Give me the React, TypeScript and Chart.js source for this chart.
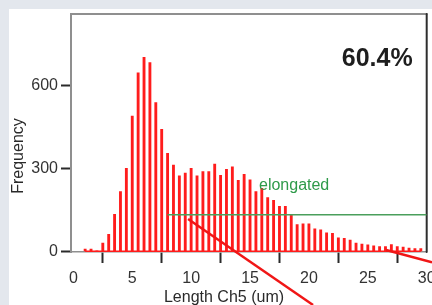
import React, { useEffect, useRef } from "react";
import { Chart, registerables } from "chart.js";

Chart.register(...registerables);

// ---- data ----
const binCenters = [
  1, 1.5, 2, 2.5, 3, 3.5, 4, 4.5, 5, 5.5,
  6, 6.5, 7, 7.5, 8, 8.5, 9, 9.5, 10, 10.5,
  11, 11.5, 12, 12.5, 13, 13.5, 14, 14.5, 15, 15.5,
  16, 16.5, 17, 17.5, 18, 18.5, 19, 19.5, 20, 20.5,
  21, 21.5, 22, 22.5, 23, 23.5, 24, 24.5, 25, 25.5,
  26, 26.5, 27, 27.5, 28, 28.5, 29, 29.5,
];
const counts = [
  8, 8, 2, 30, 61, 134, 216, 300, 489, 645,
  701, 682, 538, 441, 354, 312, 273, 283, 300, 273,
  288, 288, 315, 275, 296, 305, 257, 278, 258, 216,
  228, 194, 184, 163, 163, 131, 97, 99, 99, 81,
  78, 67, 65, 49, 47, 41, 30, 26, 23, 20,
  17, 17, 24, 17, 15, 12, 10, 10,
];
const xTicks = [0, 5, 10, 15, 20, 25, 30];
const yTicks = [0, 300, 600];
const thresholdX = [8, 30];
const thresholdY = 132;
const percentLabel = "60.4%";
const percentPos = [28.81, 671];
const regionLabel = "elongated";
const regionPos = [15.76, 223];
const xTitle = "Length Ch5 (um)";
const yTitle = "Frequency";
const arrow1X = [9.74, 20.35];
const arrow1Y = [117, -194];
const arrow2X = [26.55, 30.45];
const arrow2Y = [4.7, -40];

const FONT = "'Liberation Sans', Arial, Helvetica, sans-serif";

const overlay = {
  id: "overlay",
  beforeDatasetsDraw(chart: any) {
    const { ctx, chartArea: a } = chart;
    ctx.save();
    ctx.lineCap = "round";
    ctx.strokeStyle = "#8f8f8f";
    ctx.lineWidth = 2;
    ctx.beginPath();
    ctx.moveTo(a.left, a.top);
    ctx.lineTo(a.right, a.top);
    ctx.stroke();
    ctx.strokeStyle = "#2e2e2e";
    ctx.lineWidth = 2;
    ctx.beginPath();
    ctx.moveTo(a.right, a.top);
    ctx.lineTo(a.right, a.bottom);
    ctx.stroke();
    ctx.restore();
  },
  afterDatasetsDraw(chart: any) {
    const { ctx } = chart;
    const x = chart.scales.x;
    const y = chart.scales.y;
    ctx.save();
    ctx.fillStyle = "#1e1e1e";
    ctx.font = `bold 25px ${FONT}`;
    ctx.textAlign = "right";
    ctx.textBaseline = "alphabetic";
    ctx.fillText(percentLabel, x.getPixelForValue(percentPos[0]), y.getPixelForValue(percentPos[1]));

    ctx.fillStyle = "#2f9a4a";
    ctx.font = `16px ${FONT}`;
    ctx.textAlign = "left";
    ctx.fillText(regionLabel, x.getPixelForValue(regionPos[0]), y.getPixelForValue(regionPos[1]));

    ctx.fillStyle = "#2a2a2a";
    ctx.font = `16px ${FONT}`;
    ctx.textAlign = "center";
    ctx.fillText(xTitle, 215, 292.5);

    ctx.translate(13.5, 147);
    ctx.rotate(-Math.PI / 2);
    ctx.fillText(yTitle, 0, 0);
    ctx.restore();
  },
};

export default function App() {
  const ref = useRef<HTMLCanvasElement>(null);

  useEffect(() => {
    const canvas = ref.current;
    if (!canvas) return;
    Chart.defaults.font.family = FONT;
    const chart = new Chart(canvas, {
      type: "bar",
      data: {
        datasets: [
          {
            type: "line",
            data: arrow1X.map((v, i) => ({ x: v, y: arrow1Y[i] })),
            borderColor: "#f01616",
            borderWidth: 2.5,
            pointRadius: 0,
            clip: false,
            order: 0,
          } as any,
          {
            type: "line",
            data: arrow2X.map((v, i) => ({ x: v, y: arrow2Y[i] })),
            borderColor: "#f01616",
            borderWidth: 2.5,
            pointRadius: 0,
            clip: false,
            order: 0,
          } as any,
          {
            type: "line",
            data: thresholdX.map((v) => ({ x: v, y: thresholdY })),
            borderColor: "#4a9f5c",
            borderWidth: 1.5,
            pointRadius: 0,
            order: 1,
          } as any,
          {
            type: "bar",
            data: binCenters.map((v, i) => ({ x: v, y: counts[i] })),
            backgroundColor: "#ff1c1c",
            barThickness: 2.2,
            order: 2,
          } as any,
          {
            type: "line",
            data: [
              { x: binCenters[0], y: 0 },
              { x: binCenters[binCenters.length - 1], y: 0 },
            ],
            borderColor: "#ff1c1c",
            borderWidth: 1.5,
            pointRadius: 0,
            order: 3,
          } as any,
        ],
      },
      options: {
        responsive: false,
        animation: false,
        devicePixelRatio: 1,
        layout: { padding: { top: 5, right: 5.3, left: 0, bottom: 0 } },
        plugins: {
          legend: { display: false },
          tooltip: { enabled: false },
          title: { display: false },
        },
        scales: {
          x: {
            type: "linear",
            min: -0.2,
            max: 30,
            offset: false,
            afterBuildTicks: (s: any) => {
              s.ticks = xTicks.map((v) => ({ value: v }));
            },
            afterFit: (s: any) => {
              s.height = 53;
              s.paddingLeft = 0;
              s.paddingRight = 0;
            },
            grid: {
              display: true,
              drawOnChartArea: false,
              drawTicks: true,
              tickLength: 11,
              tickColor: "#2a2a2a",
              tickWidth: 2,
            },
            border: { display: true, color: "#8f8f8f", width: 1.5 },
            ticks: {
              color: "#333333",
              font: { size: 16 },
              padding: 6,
              maxRotation: 0,
              autoSkip: false,
            },
          },
          y: {
            type: "linear",
            min: -2.5,
            max: 858,
            afterBuildTicks: (s: any) => {
              s.ticks = yTicks.map((v) => ({ value: v }));
            },
            afterFit: (s: any) => {
              s.width = 62;
              s.paddingTop = 0;
              s.paddingBottom = 0;
            },
            grid: {
              display: true,
              drawOnChartArea: false,
              drawTicks: true,
              tickLength: 10,
              tickColor: "#2a2a2a",
              tickWidth: 2,
            },
            border: { display: true, color: "#8f8f8f", width: 2 },
            ticks: {
              color: "#333333",
              font: { size: 16 },
              padding: 3,
            },
          },
        },
      } as any,
      plugins: [overlay],
    });
    return () => chart.destroy();
  }, []);

  return (
    <div
      style={{
        position: "fixed",
        left: 0,
        top: 0,
        width: 432,
        height: 305,
        background: "#e3e7ed",
        overflow: "hidden",
      }}
    >
      <div
        style={{
          position: "absolute",
          left: 9,
          top: 9,
          width: 423,
          height: 296,
          background: "#ffffff",
        }}
      >
        <canvas
          ref={ref}
          width={423}
          height={296}
          style={{ display: "block", width: 423, height: 296 }}
        />
      </div>
    </div>
  );
}
